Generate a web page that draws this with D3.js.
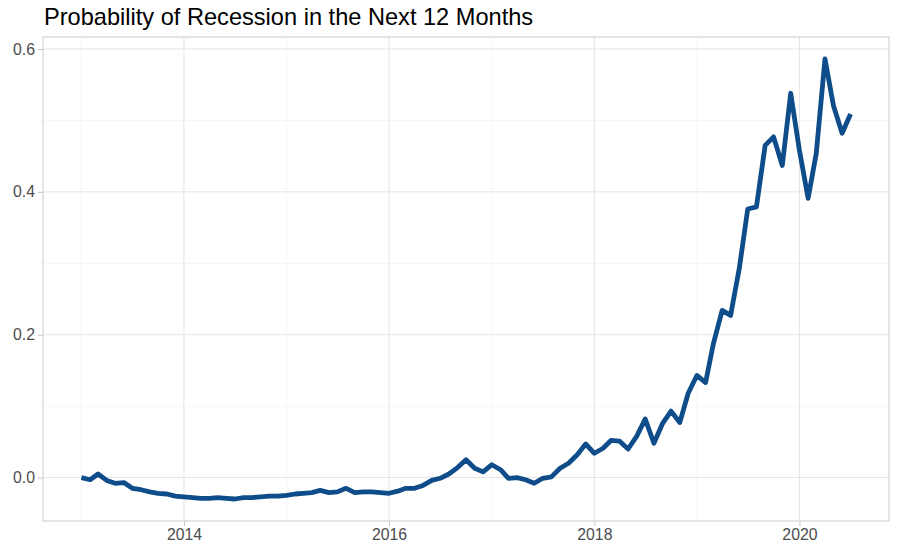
<!DOCTYPE html>
<html>
<head>
<meta charset="utf-8">
<script src="https://cdn.jsdelivr.net/npm/d3@7"></script>
<style>
  html, body { margin: 0; padding: 0; background: #fff; }
  svg { display: block; font-family: "Liberation Sans", Arial, sans-serif; }
</style>
</head>
<body>
<svg id="chart" width="897" height="559"></svg>
<script>
const title = "Probability of Recession in the Next 12 Months";
const startMonth = "2013-01-01";
const endMonth = "2020-07-01";
const probability = [
  0.000, -0.003, 0.005, -0.004, -0.008, -0.007, -0.015, -0.017, -0.020, -0.022, -0.023, -0.026,
  -0.027, -0.028, -0.029, -0.029, -0.028, -0.029, -0.030, -0.028, -0.028, -0.027, -0.026, -0.026,
  -0.025, -0.023, -0.022, -0.021, -0.018, -0.021, -0.020, -0.015, -0.021, -0.020, -0.020, -0.021,
  -0.022, -0.019, -0.015, -0.015, -0.011, -0.004, -0.001, 0.005, 0.014, 0.025, 0.013, 0.008,
  0.018, 0.011, -0.001, 0.000, -0.003, -0.008, -0.001, 0.001, 0.013, 0.020, 0.032, 0.047,
  0.034, 0.041, 0.052, 0.051, 0.040, 0.058, 0.082, 0.048, 0.076, 0.093, 0.077, 0.118,
  0.143, 0.133, 0.188, 0.234, 0.227, 0.293, 0.376, 0.379, 0.465, 0.477, 0.437, 0.538,
  0.458, 0.391, 0.454, 0.586, 0.521, 0.482, 0.509
];
const xTickYears = [2014, 2016, 2018, 2020];
const xMinorYears = [2013, 2015, 2017, 2019];
const yTicks = [0.0, 0.2, 0.4, 0.6];
const yMinor = [0.1, 0.3, 0.5];

const parse = d3.timeParse("%Y-%m-%d");
const months = d3.timeMonth.range(parse(startMonth), d3.timeMonth.offset(parse(endMonth), 1));
const data = months.map((d, i) => ({ date: d, value: probability[i] }));

const svg = d3.select("#chart");
const panel = { left: 43, right: 889, top: 37, bottom: 521 };

const xExt = d3.extent(data, d => +d.date);
const xPad = (xExt[1] - xExt[0]) * 0.05;
const x = d3.scaleTime()
  .domain([new Date(xExt[0] - xPad), new Date(xExt[1] + xPad)])
  .range([panel.left, panel.right]);

const yExt = d3.extent(data, d => d.value);
const yPad = (yExt[1] - yExt[0]) * 0.05;
const y = d3.scaleLinear()
  .domain([yExt[0] - yPad, yExt[1] + yPad])
  .range([panel.bottom, panel.top]);

const yearDate = yr => new Date(yr, 0, 1);

// minor grid
const g = svg.append("g");
g.selectAll(".xminor").data(xMinorYears).join("line")
  .attr("x1", d => x(yearDate(d))).attr("x2", d => x(yearDate(d)))
  .attr("y1", panel.top).attr("y2", panel.bottom)
  .attr("stroke", "#f0f0f0").attr("stroke-width", 0.7);
g.selectAll(".yminor").data(yMinor).join("line")
  .attr("x1", panel.left).attr("x2", panel.right)
  .attr("y1", d => y(d)).attr("y2", d => y(d))
  .attr("stroke", "#f0f0f0").attr("stroke-width", 0.7);
// major grid
g.selectAll(".xmajor").data(xTickYears).join("line")
  .attr("x1", d => x(yearDate(d))).attr("x2", d => x(yearDate(d)))
  .attr("y1", panel.top).attr("y2", panel.bottom)
  .attr("stroke", "#e4e4e4").attr("stroke-width", 1);
g.selectAll(".ymajor").data(yTicks).join("line")
  .attr("x1", panel.left).attr("x2", panel.right)
  .attr("y1", d => y(d)).attr("y2", d => y(d))
  .attr("stroke", "#e4e4e4").attr("stroke-width", 1);

// line
const line = d3.line().x(d => x(d.date)).y(d => y(d.value));
svg.append("path").datum(data)
  .attr("d", line)
  .attr("fill", "none")
  .attr("stroke", "#0f4c8a")
  .attr("stroke-width", 4.8)
  .attr("stroke-linejoin", "round")
  .attr("stroke-linecap", "butt");

// panel border
svg.append("rect")
  .attr("x", panel.left).attr("y", panel.top)
  .attr("width", panel.right - panel.left).attr("height", panel.bottom - panel.top)
  .attr("fill", "none").attr("stroke", "#cfcfcf").attr("stroke-width", 1.1);

// axes
const xAxis = d3.axisBottom(x)
  .tickValues(xTickYears.map(yearDate))
  .tickFormat(d3.timeFormat("%Y"))
  .tickSize(5).tickPadding(3);
const xg = svg.append("g").attr("transform", `translate(0,${panel.bottom})`).call(xAxis);
xg.select(".domain").remove();
xg.selectAll(".tick line").attr("stroke", "#c8c8c8").attr("stroke-width", 1);
xg.selectAll(".tick text").attr("fill", "#4d4d4d").style("font-size", "15.8px")
  .style("font-family", "'Liberation Sans', Arial, sans-serif");

const yAxis = d3.axisLeft(y)
  .tickValues(yTicks)
  .tickFormat(d3.format(".1f"))
  .tickSize(5).tickPadding(3);
const yg = svg.append("g").attr("transform", `translate(${panel.left},0)`).call(yAxis);
yg.select(".domain").remove();
yg.selectAll(".tick line").attr("stroke", "#c8c8c8").attr("stroke-width", 1);
yg.selectAll(".tick text").attr("fill", "#4d4d4d").style("font-size", "15.8px")
  .style("font-family", "'Liberation Sans', Arial, sans-serif");

// title
svg.append("text")
  .attr("x", panel.left + 1).attr("y", 25)
  .attr("fill", "#000")
  .style("font-size", "23.6px")
  .style("font-family", "'Liberation Sans', Arial, sans-serif")
  .text(title);
</script>
</body>
</html>
